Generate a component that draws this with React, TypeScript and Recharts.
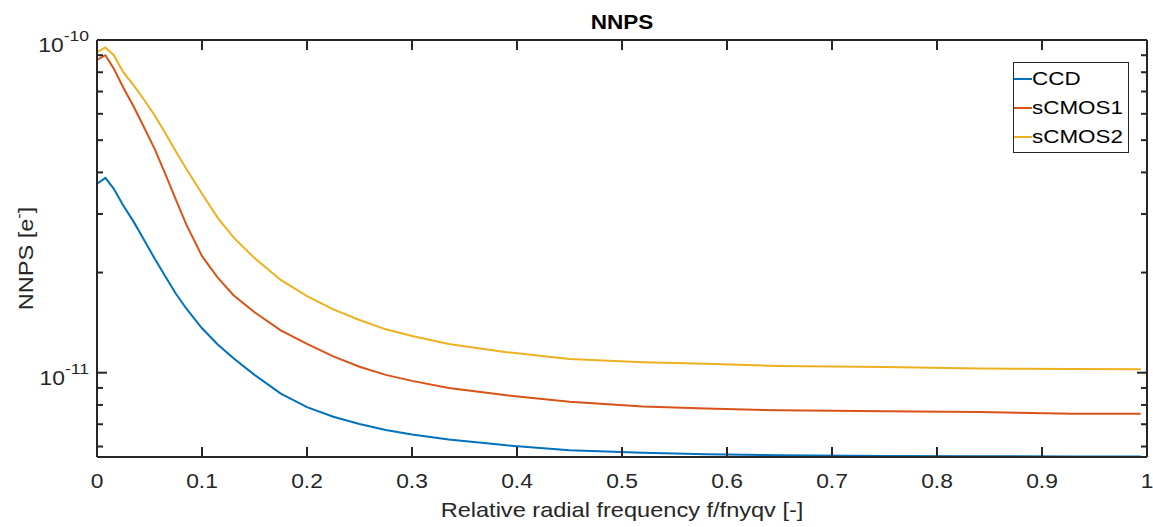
import React from 'react';
import { LineChart, Line, XAxis, YAxis, Legend, Label } from 'recharts';

// relative radial frequency (x) and the NNPS curves
const freq = [0, 0.008, 0.016, 0.025, 0.035, 0.045, 0.055, 0.065, 0.075, 0.085, 0.1, 0.115, 0.13, 0.15, 0.175, 0.2, 0.225, 0.25, 0.275, 0.3, 0.335, 0.39, 0.45, 0.52, 0.58, 0.65, 0.75, 0.84, 0.93, 0.994];
const ccd = [3.7e-11, 3.85e-11, 3.57e-11, 3.18e-11, 2.84e-11, 2.5e-11, 2.2e-11, 1.95e-11, 1.73e-11, 1.56e-11, 1.36e-11, 1.215e-11, 1.105e-11, 9.85e-12, 8.65e-12, 7.88e-12, 7.37e-12, 7.01e-12, 6.73e-12, 6.52e-12, 6.3e-12, 6.05e-12, 5.85e-12, 5.75e-12, 5.69e-12, 5.65e-12, 5.62e-12, 5.61e-12, 5.6e-12, 5.6e-12];
const scmos1 = [8.72e-11, 9.0e-11, 8.2e-11, 7.2e-11, 6.3e-11, 5.45e-11, 4.7e-11, 3.96e-11, 3.32e-11, 2.79e-11, 2.24e-11, 1.93e-11, 1.71e-11, 1.52e-11, 1.34e-11, 1.22e-11, 1.12e-11, 1.042e-11, 9.85e-12, 9.45e-12, 9.0e-12, 8.55e-12, 8.18e-12, 7.92e-12, 7.8e-12, 7.71e-12, 7.66e-12, 7.62e-12, 7.53e-12, 7.53e-12];
const scmos2 = [9.2e-11, 9.5e-11, 9.0e-11, 8.0e-11, 7.3e-11, 6.6e-11, 5.93e-11, 5.25e-11, 4.63e-11, 4.1e-11, 3.45e-11, 2.92e-11, 2.55e-11, 2.21e-11, 1.9e-11, 1.7e-11, 1.55e-11, 1.44e-11, 1.35e-11, 1.29e-11, 1.22e-11, 1.153e-11, 1.1e-11, 1.075e-11, 1.064e-11, 1.048e-11, 1.04e-11, 1.03e-11, 1.026e-11, 1.024e-11];

const seriesNames = ['CCD', 'sCMOS1', 'sCMOS2'];
const COLORS = ['#0072BD', '#D95319', '#EDB120'];
// sCMOS1 is bound to the mirrored top/right axes (same domains) so those axes get drawn
const AXIS_IDS = [
  { x: 0, y: 0 },
  { x: 'top', y: 'right' },
  { x: 0, y: 0 },
];

const xTicks = [0, 0.1, 0.2, 0.3, 0.4, 0.5, 0.6, 0.7, 0.8, 0.9, 1];
const yTicks = [6e-12, 7e-12, 8e-12, 9e-12, 1e-11, 2e-11, 3e-11, 4e-11, 5e-11, 6e-11, 7e-11, 8e-11, 9e-11, 1e-10];

const data = freq.map((f, i) => ({
  f,
  CCD: ccd[i],
  sCMOS1: scmos1[i],
  sCMOS2: scmos2[i],
}));

const INK = '#262626';
const FONT = '"Liberation Sans", Arial, Helvetica, sans-serif';
const Y_DOMAIN = [5.58e-12, 1e-10];

const isDecade = (v: number) => Math.abs(Math.log10(v) - Math.round(Math.log10(v))) < 1e-6;
const fmtX = (v: number) => String(Math.round(v * 10) / 10);

function BottomTick({ x, y, payload }: any) {
  return (
    <g>
      <line x1={x} y1={y} x2={x} y2={y - 10} stroke={INK} strokeWidth={2} />
      <text
        transform={`translate(${x},${y + 31}) scale(1.17,1)`}
        textAnchor="middle"
        fontSize={19.5}
        fontFamily={FONT}
        fill={INK}
      >
        {fmtX(payload.value)}
      </text>
    </g>
  );
}

function TopTick({ x, y }: any) {
  return <line x1={x} y1={y} x2={x} y2={y + 10} stroke={INK} strokeWidth={2} />;
}

function LeftTick({ x, y, payload }: any) {
  const v = payload.value;
  const major = isDecade(v);
  const e = Math.round(Math.log10(v));
  return (
    <g>
      <line x1={x} y1={y} x2={x + (major ? 10 : 6)} y2={y} stroke={INK} strokeWidth={2} />
      {major && (
        <text
          transform={`translate(${x - 8},${y + 12}) scale(1.17,1)`}
          textAnchor="end"
          fontSize={19.5}
          fontFamily={FONT}
          fill={INK}
        >
          10
          <tspan dy={-11} fontSize={15}>
            {String(e)}
          </tspan>
        </text>
      )}
    </g>
  );
}

function RightTick({ x, y, payload }: any) {
  const major = isDecade(payload.value);
  return <line x1={x} y1={y} x2={x - (major ? 10 : 6)} y2={y} stroke={INK} strokeWidth={2} />;
}

function LegendBox() {
  return (
    <div
      style={{
        position: 'relative',
        width: 116,
        height: 91,
        boxSizing: 'border-box',
        border: `1.5px solid ${INK}`,
        background: '#fff',
        fontFamily: FONT,
      }}
    >
      {seriesNames.map((name, i) => (
        <div
          key={name}
          style={{ position: 'absolute', left: 0, top: 16 + i * 29.2 - 11, height: 22, width: 112 }}
        >
          <div
            style={{ position: 'absolute', left: 0, top: 10, width: 18, height: 2, background: COLORS[i] }}
          />
          <div
            style={{
              position: 'absolute',
              left: 18,
              top: 0,
              fontSize: 19,
              lineHeight: '22px',
              color: '#000',
              whiteSpace: 'nowrap',
              transform: 'scaleX(1.18)',
              transformOrigin: 'left center',
            }}
          >
            {name}
          </div>
        </div>
      ))}
    </div>
  );
}

export default function App() {
  return (
    <div style={{ position: 'absolute', left: 0, top: 0, width: 1153, height: 527, background: '#fff' }}>
      <LineChart
        width={1153}
        height={527}
        data={data}
        margin={{ top: 39, right: 5, bottom: 0, left: 0 }}
        style={{ fontFamily: FONT }}
      >
        <XAxis
          dataKey="f"
          type="number"
          domain={[0, 1]}
          ticks={xTicks}
          interval={0}
          height={70}
          tickSize={0}
          tickMargin={0}
          tick={<BottomTick />}
          tickLine={false}
          axisLine={{ stroke: INK, strokeWidth: 2 }}
          allowDataOverflow
        >
          <Label
            content={({ viewBox }: any) => (
              <text
                transform={`translate(${viewBox.x + viewBox.width / 2},${viewBox.y + 60}) scale(1.15,1)`}
                textAnchor="middle"
                fontSize={20.5}
                fontFamily={FONT}
                fill={INK}
              >
                Relative radial frequency f/fnyqv [-]
              </text>
            )}
          />
        </XAxis>
        <XAxis
          xAxisId="top"
          orientation="top"
          dataKey="f"
          type="number"
          domain={[0, 1]}
          ticks={xTicks}
          interval={0}
          height={1}
          tickSize={0}
          tickMargin={0}
          tick={<TopTick />}
          tickLine={false}
          axisLine={{ stroke: INK, strokeWidth: 2 }}
          allowDataOverflow
        >
          <Label
            content={({ viewBox }: any) => (
              <text
                transform={`translate(${viewBox.x + viewBox.width / 2},${viewBox.y + viewBox.height - 11.5}) scale(1.13,1)`}
                textAnchor="middle"
                fontSize={20}
                fontWeight="bold"
                fontFamily={FONT}
                fill="#000"
              >
                NNPS
              </text>
            )}
          />
        </XAxis>
        <YAxis
          type="number"
          scale="log"
          domain={Y_DOMAIN}
          ticks={yTicks}
          interval={0}
          width={97}
          tickSize={0}
          tickMargin={0}
          tick={<LeftTick />}
          tickLine={false}
          axisLine={{ stroke: INK, strokeWidth: 2 }}
          allowDataOverflow
        >
          <Label
            content={({ viewBox }: any) => (
              <text
                transform={`translate(${33},${viewBox.y + viewBox.height / 2 + 10}) rotate(-90) scale(1.15,1)`}
                textAnchor="middle"
                fontSize={20.5}
                fontFamily={FONT}
                fill={INK}
              >
                NNPS [e
                <tspan dy={-9} fontSize={14}>
                  -
                </tspan>
                <tspan dy={9}>]</tspan>
              </text>
            )}
          />
        </YAxis>
        <YAxis
          yAxisId="right"
          orientation="right"
          type="number"
          scale="log"
          domain={Y_DOMAIN}
          ticks={yTicks}
          interval={0}
          width={1}
          tickSize={0}
          tickMargin={0}
          tick={<RightTick />}
          tickLine={false}
          axisLine={{ stroke: INK, strokeWidth: 2 }}
          allowDataOverflow
        />
        <Legend
          layout="vertical"
          align="center"
          verticalAlign="middle"
          content={() => <LegendBox />}
          wrapperStyle={{ left: 1013, top: 61.5, width: 116, height: 91 }}
        />
        {seriesNames.map((name, i) => (
          <Line
            key={name}
            dataKey={name}
            xAxisId={AXIS_IDS[i].x}
            yAxisId={AXIS_IDS[i].y}
            type="linear"
            stroke={COLORS[i]}
            strokeWidth={2}
            dot={false}
            activeDot={false}
            isAnimationActive={false}
          />
        ))}
      </LineChart>
    </div>
  );
}
